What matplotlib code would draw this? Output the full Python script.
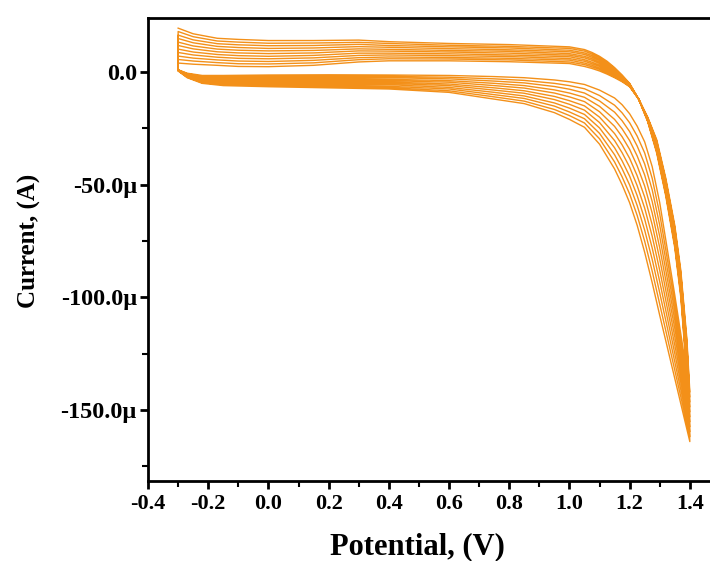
import numpy as np
import matplotlib
matplotlib.use("Agg")
import matplotlib.pyplot as plt
from matplotlib.ticker import MultipleLocator, FuncFormatter

# potentials (V) of the forward (-0.3 -> 1.4) and reverse (1.4 -> -0.3) sweeps
E_fwd = [-0.30, -0.27, -0.22, -0.15, 0.0, 0.2, 0.4, 0.6, 0.75, 0.85, 0.95, 1.00,
         1.05, 1.10, 1.15, 1.175, 1.20, 1.225, 1.25, 1.275, 1.30, 1.35, 1.40]
E_rev = [1.40, 1.39, 1.37, 1.35, 1.32, 1.29, 1.26, 1.23, 1.20, 1.175, 1.15, 1.125,
         1.10, 1.075, 1.05, 1.00, 0.80, 0.60, 0.40, 0.30, 0.15, 0.00, -0.10, -0.17,
         -0.25, -0.30]

# current (uA), one row per cycle
fwd_uA = [
    [1.0, -0.5, -1.5, -1.5, -1.3, -1.2, -1.3, -1.5, -2.0, -2.5, -3.5, -4.3, -5.5, -8.0, -11.5, -14.5, -18.5, -24.0, -31.0, -42.0, -58.0, -99.0, -142.0],
    [1.0, -0.7, -1.9, -2.0, -1.8, -1.8, -1.9, -2.3, -3.0, -3.7, -5.0, -6.0, -7.4, -10.4, -14.7, -18.1, -22.5, -28.4, -35.9, -47.2, -63.0, -102.7, -144.2],
    [0.9, -0.9, -2.2, -2.4, -2.3, -2.4, -2.5, -3.0, -4.0, -4.8, -6.4, -7.6, -9.3, -12.8, -17.8, -21.6, -26.4, -32.8, -40.8, -52.3, -68.0, -106.4, -146.4],
    [0.9, -1.1, -2.6, -2.9, -2.9, -2.9, -3.2, -3.8, -5.0, -6.0, -7.9, -9.3, -11.2, -15.2, -21.0, -25.2, -30.4, -37.2, -45.7, -57.5, -73.0, -110.1, -148.6],
    [0.8, -1.3, -2.9, -3.3, -3.4, -3.5, -3.8, -4.5, -6.0, -7.1, -9.3, -11.0, -13.1, -17.6, -24.1, -28.7, -34.3, -41.6, -50.6, -62.6, -78.0, -113.8, -150.8],
    [0.8, -1.5, -3.3, -3.8, -3.9, -4.1, -4.4, -5.3, -7.0, -8.3, -10.8, -12.7, -15.0, -20.0, -27.3, -32.3, -38.3, -46.0, -55.5, -67.8, -83.0, -117.5, -153.0],
    [0.7, -1.7, -3.6, -4.2, -4.4, -4.7, -5.0, -6.0, -8.0, -9.4, -12.2, -14.3, -16.9, -22.4, -30.4, -35.8, -42.2, -50.4, -60.4, -72.9, -88.0, -121.2, -155.2],
    [0.7, -1.9, -4.0, -4.7, -4.9, -5.3, -5.6, -6.8, -9.0, -10.6, -13.7, -16.0, -18.8, -24.8, -33.6, -39.4, -46.2, -54.8, -65.3, -78.1, -93.0, -124.9, -157.4],
    [0.6, -2.1, -4.3, -5.1, -5.5, -5.8, -6.3, -7.5, -10.0, -11.7, -15.1, -17.7, -20.7, -27.2, -36.7, -42.9, -50.1, -59.2, -70.2, -83.2, -98.0, -128.6, -159.6],
    [0.6, -2.3, -4.7, -5.6, -6.0, -6.4, -6.9, -8.3, -11.0, -12.9, -16.6, -19.3, -22.6, -29.6, -39.9, -46.5, -54.1, -63.6, -75.1, -88.4, -103.0, -132.3, -161.8],
    [0.5, -2.5, -5.0, -6.0, -6.5, -7.0, -7.5, -9.0, -12.0, -14.0, -18.0, -21.0, -24.5, -32.0, -43.0, -50.0, -58.0, -68.0, -80.0, -93.5, -108.0, -136.0, -164.0],
]
rev_uA = [
    [-142.0, -118.0, -88.0, -68.0, -47.0, -30.0, -20.0, -12.0, -6.5, -4.3, -2.5, -0.9, 0.5, 1.6, 2.5, 3.8, 4.6, 5.0, 5.0, 4.5, 3.0, 2.4, 2.5, 3.0, 3.5, 4.0],
    [-144.2, -119.7, -89.2, -69.0, -47.8, -30.6, -20.2, -12.0, -6.4, -4.0, -2.1, -0.3, 1.2, 2.3, 3.3, 4.5, 5.4, 5.8, 5.9, 5.5, 4.1, 3.6, 3.7, 4.2, 4.9, 5.6],
    [-146.4, -121.4, -90.4, -70.0, -48.6, -31.2, -20.4, -12.0, -6.2, -3.7, -1.6, 0.2, 1.8, 3.0, 4.0, 5.3, 6.1, 6.5, 6.7, 6.4, 5.2, 4.7, 4.9, 5.4, 6.2, 7.1],
    [-148.6, -123.1, -91.6, -71.0, -49.4, -31.8, -20.6, -12.0, -6.1, -3.4, -1.2, 0.8, 2.5, 3.7, 4.8, 6.0, 6.9, 7.3, 7.6, 7.4, 6.3, 5.9, 6.1, 6.6, 7.6, 8.7],
    [-150.8, -124.8, -92.8, -72.0, -50.2, -32.4, -20.8, -12.0, -5.9, -3.1, -0.7, 1.4, 3.1, 4.4, 5.5, 6.8, 7.6, 8.1, 8.4, 8.4, 7.4, 7.0, 7.3, 7.8, 8.9, 10.2],
    [-153.0, -126.5, -94.0, -73.0, -51.0, -33.0, -21.0, -12.0, -5.8, -2.8, -0.3, 1.9, 3.8, 5.2, 6.3, 7.5, 8.4, 8.9, 9.3, 9.4, 8.5, 8.2, 8.5, 9.0, 10.3, 11.8],
    [-155.2, -128.2, -95.2, -74.0, -51.8, -33.6, -21.2, -12.0, -5.6, -2.5, 0.2, 2.5, 4.4, 5.9, 7.0, 8.2, 9.2, 9.6, 10.1, 10.3, 9.6, 9.4, 9.7, 10.2, 11.6, 13.3],
    [-157.4, -129.9, -96.4, -75.0, -52.6, -34.2, -21.4, -12.0, -5.5, -2.2, 0.7, 3.1, 5.1, 6.6, 7.8, 9.0, 9.9, 10.4, 11.0, 11.3, 10.7, 10.5, 10.9, 11.4, 13.0, 14.9],
    [-159.6, -131.6, -97.6, -76.0, -53.4, -34.8, -21.6, -12.0, -5.3, -1.9, 1.1, 3.7, 5.7, 7.3, 8.5, 9.7, 10.7, 11.2, 11.8, 12.3, 11.8, 11.7, 12.1, 12.6, 14.3, 16.4],
    [-161.8, -133.3, -98.8, -77.0, -54.2, -35.4, -21.8, -12.0, -5.2, -1.6, 1.6, 4.2, 6.4, 8.0, 9.3, 10.5, 11.4, 11.9, 12.7, 13.2, 12.9, 12.8, 13.3, 13.8, 15.7, 18.0],
    [-164.0, -135.0, -100.0, -78.0, -55.0, -36.0, -22.0, -12.0, -5.0, -1.3, 2.0, 4.8, 7.0, 8.7, 10.0, 11.2, 12.2, 12.7, 13.5, 14.2, 14.0, 14.0, 14.5, 15.0, 17.0, 19.5],
]

plt.rcParams['font.family'] = ['Liberation Serif', 'DejaVu Serif']
plt.rcParams['font.weight'] = 'bold'

fig = plt.figure(figsize=(7.1, 5.61), dpi=100)
ax = fig.add_axes([0.2085, 0.1426, 0.7915, 0.8253])

# all cycles as one continuous trace
E_all, I_all = [], []
for f, r in zip(fwd_uA, rev_uA):
    E_all += E_fwd + E_rev
    I_all += f + r
ax.plot(E_all, I_all, color='#F39019', lw=1.0)

ax.set_xlim(-0.4, 1.467)
ax.set_ylim(-181.5, 24)
ax.xaxis.set_major_locator(MultipleLocator(0.2))
ax.xaxis.set_minor_locator(MultipleLocator(0.1))
ax.yaxis.set_major_locator(MultipleLocator(50))
ax.yaxis.set_minor_locator(MultipleLocator(25))
ax.xaxis.set_major_formatter(FuncFormatter(lambda v, p: f"{v:.1f}" if abs(v) > 1e-9 else "0.0"))
ax.yaxis.set_major_formatter(FuncFormatter(lambda v, p: "0.0" if abs(v) < 1e-9 else f"{v:.1f}\u00b5"))

for s in ['left', 'bottom', 'top']:
    ax.spines[s].set_linewidth(2.0)
ax.spines['right'].set_visible(False)
ax.tick_params(which='major', direction='out', length=6, width=2)
ax.tick_params(which='minor', direction='out', length=4, width=1.5)
ax.tick_params(axis='x', labelsize=16)
ax.tick_params(axis='y', labelsize=17.5, pad=2)
ax.tick_params(top=False, right=False, which='both')

ax.set_xlabel('Potential, (V)', fontsize=22, fontweight='bold')
ax.set_ylabel('Current, (A)', fontsize=18, fontweight='bold')
ax.xaxis.set_label_coords(0.48, -0.110)
ax.yaxis.set_label_coords(-0.190, 0.518)

fig.savefig('out.png', dpi=100)
